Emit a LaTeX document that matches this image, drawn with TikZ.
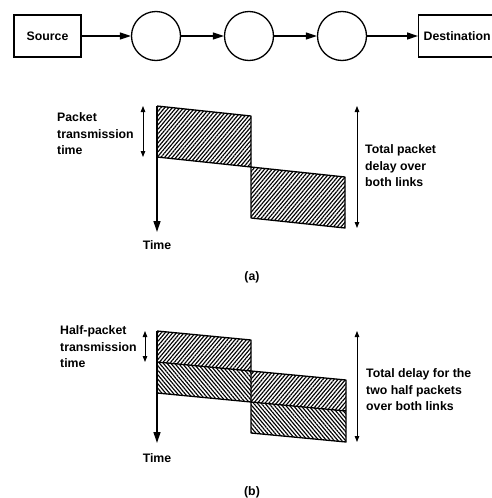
\documentclass[tikz,border=0pt]{standalone}
\usepackage{fontspec}
\setmainfont{Liberation Sans}
\usetikzlibrary{arrows.meta,patterns.meta}
\begin{document}
\begin{tikzpicture}[x=1pt,y=-1pt,
  every node/.style={font=\fontsize{12.3}{16.5}\selectfont\bfseries},
  box/.style={draw,line width=1.3pt,minimum height=42pt,inner xsep=6pt},
  hop/.style={draw,circle,line width=1.3pt,minimum size=49pt,inner sep=0pt},
  arr/.style={line width=1.3pt,-{Triangle[length=11pt,width=7pt]}},
  dbl/.style={line width=0.8pt,{Triangle[length=6pt,width=4.5pt]}-{Triangle[length=6pt,width=4.5pt]}},
  outl/.style={line width=1.3pt,line join=round},
  hne/.style={pattern={Lines[angle=50,distance=2.9pt,line width=1.15pt]}},
  hnw/.style={pattern={Lines[angle=-50,distance=2.9pt,line width=1.15pt]}},
  lbl/.style={align=left,anchor=west,inner sep=0pt}
]
\useasboundingbox (0,0) rectangle (492,498);
\clip (0,0) rectangle (492,498);
% top row
\node[box,minimum width=67pt,inner xsep=0pt] (src) at (47.5,36) {Source};
\node[hop] (c1) at (156,36) {};
\node[hop] (c2) at (249,36) {};
\node[hop] (c3) at (342,36) {};
\node[box,anchor=west,inner xsep=5pt] (dst) at (418,36) {Destination};
\draw[arr] (src) -- (c1);
\draw[arr] (c1) -- (c2);
\draw[arr] (c2) -- (c3);
\draw[arr] (c3) -- (dst);
% (a)
\fill[hne] (157,106) -- (251,116) -- (251,167) -- (157,157) -- cycle;
\fill[hne] (251,167) -- (345,177) -- (345,228) -- (251,218) -- cycle;
\draw[outl] (157,106) -- (251,116) -- (251,167) -- (157,157);
\draw[outl] (251,167) -- (345,177) -- (345,228) -- (251,218) -- cycle;
\coordinate (ta) at (157,106);
\coordinate (ba) at (157,232);
\draw[arr] (ta) -- (ba);
\coordinate (pa1) at (143,106);
\coordinate (pa2) at (143,157);
\draw[dbl] (pa1) -- (pa2);
\coordinate (qa1) at (357,106);
\coordinate (qa2) at (357,228);
\draw[dbl] (qa1) -- (qa2);
\node[lbl] (la) at (57,134) {Packet\\transmission\\time};
\node[lbl] (ra) at (365,166) {Total packet\\delay over\\both links};
\node (tima) at (157,245) {Time};
\node (capa) at (252,277) {(a)};
% (b)
\fill[hne] (157,331) -- (251,340) -- (251,371) -- (157,362) -- cycle;
\fill[hnw] (157,362) -- (251,371) -- (251,402) -- (157,393) -- cycle;
\fill[hne] (251,371) -- (346,380) -- (346,411) -- (251,402) -- cycle;
\fill[hnw] (251,402) -- (346,411) -- (346,442) -- (251,433) -- cycle;
\draw[outl] (157,331) -- (251,340) -- (251,402) -- (157,393);
\draw[outl] (157,362) -- (251,371) -- (346,380) -- (346,442) -- (251,433) -- (251,402) -- (346,411);
\coordinate (tb) at (157,331);
\coordinate (bb) at (157,443);
\draw[arr] (tb) -- (bb);
\coordinate (pb1) at (145,331);
\coordinate (pb2) at (145,362);
\draw[dbl] (pb1) -- (pb2);
\coordinate (qb1) at (357,331);
\coordinate (qb2) at (357,442);
\draw[dbl] (qb1) -- (qb2);
\node[lbl] (lb) at (60,347) {Half-packet\\transmission\\time};
\node[lbl] (rb) at (366,390) {Total delay for the\\two half packets\\over both links};
\node (timb) at (157,458) {Time};
\node (capb) at (252,492) {(b)};
\end{tikzpicture}
\end{document}
